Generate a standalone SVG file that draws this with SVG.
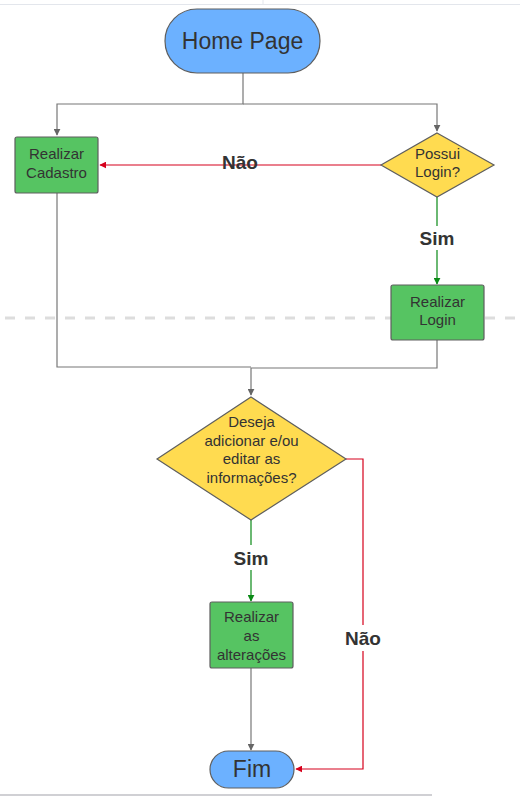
<svg xmlns="http://www.w3.org/2000/svg" width="520" height="796" viewBox="0 0 520 796">
<style>
text{font-family:"Liberation Sans",Arial,sans-serif;fill:#333333;text-anchor:middle}
.t{font-size:15px}
.big{font-size:23px}
.lbl{font-size:19px;font-weight:bold}
.term{fill:#6cb1ff;stroke:#5e5e5e;stroke-width:1.2}
.proc{fill:#56c462;stroke:#5e5e5e;stroke-width:1.2}
.dec{fill:#ffdb50;stroke:#5e5e5e;stroke-width:1.2}
.g{fill:none;stroke:#777777;stroke-width:1.2}
.r{fill:none;stroke:#d6001c;stroke-width:1.2}
.gr{fill:none;stroke:#0a8a16;stroke-width:1.2}
</style>
<defs>
<marker id="ag" viewBox="0 0 10 10" refX="9" refY="5" markerWidth="7" markerHeight="7" orient="auto" markerUnits="userSpaceOnUse"><path d="M0,0L10,5L0,10z" fill="#666666"/></marker>
<marker id="ar" viewBox="0 0 10 10" refX="9" refY="5" markerWidth="7" markerHeight="7" orient="auto" markerUnits="userSpaceOnUse"><path d="M0,0L10,5L0,10z" fill="#d6001c"/></marker>
<marker id="agr" viewBox="0 0 10 10" refX="9" refY="5" markerWidth="7" markerHeight="7" orient="auto" markerUnits="userSpaceOnUse"><path d="M0,0L10,5L0,10z" fill="#0a8a16"/></marker>
</defs>
<g id="background">
<line x1="0" y1="4.5" x2="520" y2="4.5" stroke="#e3e6ec" stroke-width="1"/>
<line x1="263" y1="0" x2="263" y2="4" stroke="#e3e6ec" stroke-width="1"/>
<line x1="0" y1="795" x2="432" y2="795" stroke="#d0d0d4" stroke-width="2"/>
<line x1="5" y1="318" x2="520" y2="318" stroke="#dddddd" stroke-width="3" stroke-dasharray="10 10"/>
</g>
<g id="connectors">
<path class="g" d="M243,73V104H57V135" marker-end="url(#ag)"/>
<path class="g" d="M243,104H437V131" marker-end="url(#ag)"/>
<path class="r" d="M381,165H100" marker-end="url(#ar)"/>
<path class="gr" d="M437,197V226M437,250V284" marker-end="url(#agr)"/>
<path class="g" d="M57,193V367H251"/>
<path class="g" d="M437,340V368H251V395" marker-end="url(#ag)"/>
<path class="gr" d="M251,520V545M251,570V601" marker-end="url(#agr)"/>
<path class="g" d="M251,668V750" marker-end="url(#ag)"/>
<path class="r" d="M346,459H363V625M363,651V769H296" marker-end="url(#ar)"/>
<text class="lbl" x="240" y="169">Não</text>
<text class="lbl" x="437" y="245">Sim</text>
<text class="lbl" x="251" y="565">Sim</text>
<text class="lbl" x="363" y="645">Não</text>
</g>
<g id="home">
<rect class="term" x="165" y="9" width="155" height="64" rx="32"/>
<text class="big" x="242.5" y="49">Home Page</text>
</g>
<g id="cadastro">
<rect class="proc" x="15" y="137" width="83" height="56" rx="2"/>
<text class="t" x="56.5" y="159">Realizar</text>
<text class="t" x="56.5" y="178">Cadastro</text>
</g>
<g id="possui">
<polygon class="dec" points="437,133 494,165 437,197 381,165"/>
<text class="t" x="437.5" y="159">Possui</text>
<text class="t" x="437.5" y="177">Login?</text>
</g>
<g id="login">
<rect class="proc" x="391" y="285" width="93" height="55" rx="2"/>
<text class="t" x="437.5" y="307">Realizar</text>
<text class="t" x="437.5" y="325">Login</text>
</g>
<g id="deseja">
<polygon class="dec" points="251,397 346,459 251,520 157,459"/>
<text class="t" x="251.5" y="427">Deseja</text>
<text class="t" x="251.5" y="446">adicionar e/ou</text>
<text class="t" x="251.5" y="464">editar as</text>
<text class="t" x="251.5" y="483">informações?</text>
</g>
<g id="alteracoes">
<rect class="proc" x="210" y="602" width="83" height="66" rx="2"/>
<text class="t" x="251.5" y="622">Realizar</text>
<text class="t" x="251.5" y="641">as</text>
<text class="t" x="251.5" y="660">alterações</text>
</g>
<g id="fim">
<rect class="term" x="210" y="751" width="84" height="37" rx="18.5"/>
<text class="big" x="252" y="777">Fim</text>
</g>
</svg>
